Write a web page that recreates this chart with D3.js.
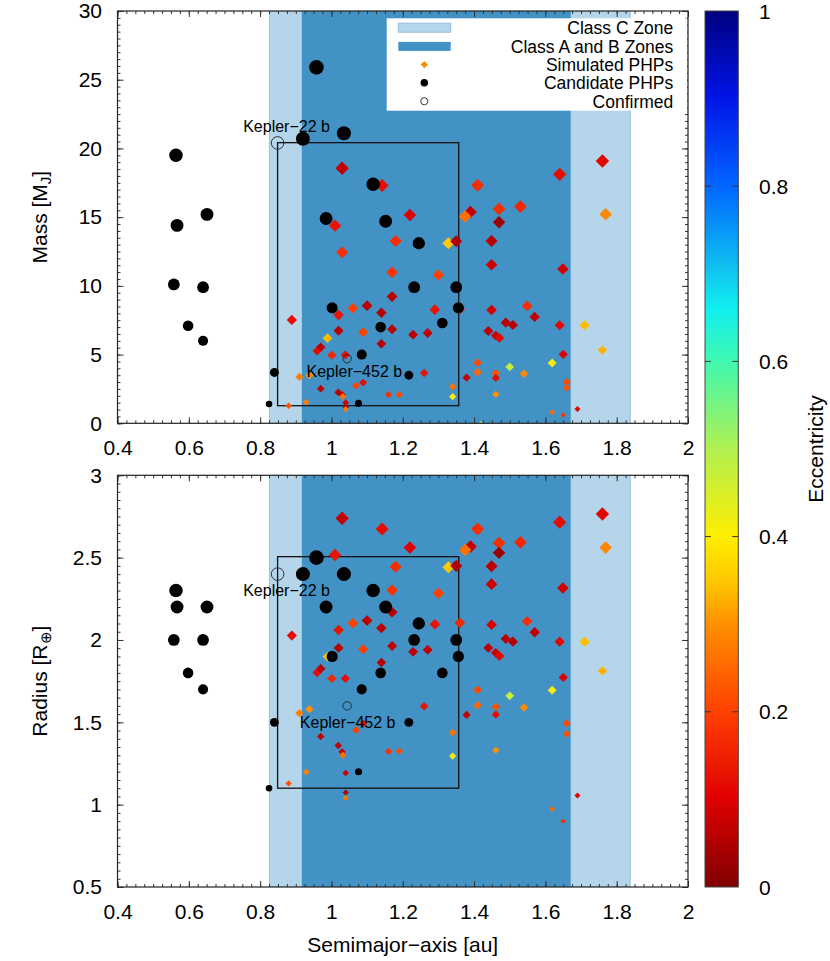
<!DOCTYPE html>
<html>
<head>
<meta charset="utf-8">
<script src="https://cdn.jsdelivr.net/npm/d3@7"></script>
<style>
  body { margin: 0; background: #fff; }
  text { font-family: "Liberation Sans", Arial, Helvetica, sans-serif; fill: #000; }
</style>
</head>
<body>
<svg id="chart" width="830" height="961"></svg>
<script>
// ---- data ----
var xTicks = [0.4, 0.6, 0.8, 1, 1.2, 1.4, 1.6, 1.8, 2];
var massTicks = [0, 5, 10, 15, 20, 25, 30];
var radiusTicks = [0.5, 1, 1.5, 2, 2.5, 3];
var eccTicks = [0, 0.2, 0.4, 0.6, 0.8, 1];

var zoneC = [0.826, 1.838];
var zoneAB = [0.917, 1.671];

var boxA = [0.849, 1.357];
var boxMass = [1.28, 20.42];
var boxRadius = [1.10, 2.506];

// candidate PHPs (black dots)
var candA      = [0.564, 0.567, 0.651, 0.558, 0.640, 0.598, 0.640,
                  0.958, 0.920, 1.035, 1.117, 0.985, 1.152, 1.245, 1.232, 1.350, 1.356, 1.002, 1.311, 1.138, 1.085, 1.217, 0.840, 0.825, 1.076];
var candMass   = [19.5, 14.4, 15.2, 10.1, 9.9, 7.1, 6.0,
                  25.9, 20.7, 21.1, 17.4, 14.9, 14.7, 13.1, 9.9, 9.9, 8.4, 8.4, 7.3, 7.0, 5.0, 3.5, 3.7, 1.4, 1.45];
var candRadius = [2.3, 2.2, 2.2, 2.0, 2.0, 1.8, 1.7,
                  2.5, 2.4, 2.4, 2.3, 2.2, 2.2, 2.1, 2.0, 2.0, 1.9, 1.9, 1.8, 1.8, 1.7, 1.5, 1.5, 1.1, 1.2];

// confirmed planets (open circles)
var confNames  = ["Kepler\u221222 b", "Kepler\u2212452 b"];
var confA      = [0.849, 1.044];
var confMass   = [20.4, 4.7];
var confRadius = [2.4, 1.6];

// simulated PHPs (diamonds coloured by eccentricity)
var simA = [1.030, 1.142, 1.410, 1.390, 1.375, 1.220, 1.010, 1.180, 1.030, 1.328,
            1.350, 1.170, 1.300, 1.170, 1.100, 1.060, 1.020, 1.140, 1.290, 0.889,
            1.020, 1.089, 1.170, 1.229, 1.270, 0.989, 1.140, 0.960, 0.970, 1.001,
            1.039, 1.260, 0.910, 0.938, 1.089, 1.069, 0.970, 1.019, 1.030, 1.032,
            1.160, 1.190, 1.340, 1.340, 0.929, 0.880, 1.040, 1.040, 1.040, 1.379,
            1.360, 1.760, 1.640, 1.769, 1.470, 1.530, 1.470, 1.449, 1.449, 1.649,
            1.449, 1.549, 1.570, 1.489, 1.509, 1.440, 1.461, 1.471, 1.640, 1.710,
            1.760, 1.650, 1.410, 1.500, 1.619, 1.410, 1.461, 1.461, 1.540, 1.461,
            1.660, 1.660, 1.690, 1.619, 1.650, 1.419];
var simMass = [18.56, 17.3, 17.32, 15.38, 15.04, 15.16, 14.38, 13.27, 12.44, 13.1,
               13.25, 10.99, 10.79, 9.22, 8.56, 8.37, 7.88, 8.05, 8.27, 7.52,
               6.74, 6.62, 6.84, 6.45, 6.57, 6.19, 5.79, 5.28, 5.53, 4.95,
               4.97, 3.66, 3.37, 3.49, 2.96, 2.74, 2.52, 2.26, 2.08, 1.95,
               2.08, 2.08, 2.66, 1.94, 1.53, 1.28, 1.5, 1.15, 1.02, 3.32,
               8.3, 19.09, 18.12, 15.21, 15.6, 15.77, 14.63, 13.27, 11.54, 11.23,
               8.25, 8.54, 7.74, 7.32, 7.15, 6.72, 6.38, 6.21, 7.13, 7.13,
               5.33, 5.02, 4.41, 4.10, 4.39, 3.71, 3.64, 3.30, 3.61, 2.11,
               3.01, 2.59, 1.04, 0.80, 0.60, 0.04];
var simRadius = [2.739, 2.674, 2.674, 2.567, 2.547, 2.561, 2.516, 2.445, 2.40, 2.442,
                 2.45, 2.302, 2.284, 2.169, 2.118, 2.102, 2.061, 2.072, 2.096, 2.027,
                 1.952, 1.944, 1.964, 1.928, 1.940, 1.899, 1.863, 1.802, 1.826, 1.766,
                 1.766, 1.598, 1.556, 1.58, 1.491, 1.453, 1.414, 1.359, 1.321, 1.30,
                 1.323, 1.325, 1.438, 1.295, 1.198, 1.129, 1.192, 1.074, 1.04, 1.545,
                 2.104, 2.765, 2.715, 2.561, 2.589, 2.593, 2.529, 2.448, 2.339, 2.316,
                 2.092, 2.114, 2.047, 2.007, 1.99, 1.952, 1.922, 1.902, 1.99, 1.99,
                 1.812, 1.772, 1.697, 1.661, 1.695, 1.604, 1.594, 1.547, 1.59, 1.331,
                 1.495, 1.43, 1.056, 0.975, 0.90, 0.45];
var simEcc = [0.07, 0.12, 0.17, 0.07, 0.26, 0.10, 0.13, 0.17, 0.17, 0.35,
              0.05, 0.18, 0.20, 0.06, 0.06, 0.20, 0.13, 0.06, 0.13, 0.12,
              0.06, 0.20, 0.06, 0.06, 0.07, 0.34, 0.06, 0.12, 0.06, 0.16,
              0.12, 0.13, 0.28, 0.30, 0.12, 0.20, 0.07, 0.06, 0.07, 0.26,
              0.18, 0.21, 0.26, 0.40, 0.28, 0.22, 0.08, 0.06, 0.27, 0.07,
              0.16, 0.11, 0.12, 0.29, 0.17, 0.16, 0.03, 0.06, 0.08, 0.09,
              0.09, 0.17, 0.07, 0.06, 0.06, 0.06, 0.08, 0.11, 0.11, 0.34,
              0.33, 0.10, 0.21, 0.47, 0.41, 0.25, 0.22, 0.12, 0.29, 0.30,
              0.21, 0.22, 0.11, 0.25, 0.18, 0.47];

// palette of the colour bar
var eccStops  = [0, 0.1, 0.2, 0.3, 0.35, 0.4, 0.5, 0.6, 0.66, 0.7, 0.8, 0.9, 1];
var eccColors = ["#800000", "#e00000", "#ff4000", "#ff9000", "#ffc800", "#ffee00", "#b0f050",
                 "#40f8b0", "#10f0f0", "#10c8f0", "#0066ff", "#0014e8", "#000080"];

var legendLabels = ["Class C Zone", "Class A and B Zones", "Simulated PHPs", "Candidate PHPs", "Confirmed"];

// ---- setup ----
var svg = d3.select("#chart");
var left = 117.5, right = 688;

var x = d3.scaleLinear().domain([0.4, 2]).range([left, right]);
var yMass = d3.scaleLinear().domain([0, 30]).range([423.3, 11]);
var yRad = d3.scaleLinear().domain([0.5, 3]).range([887, 475.3]);
var ecc = d3.scaleLinear().domain(eccStops).range(eccColors).interpolate(d3.interpolateRgb);
var diamondSize = d3.scaleLinear().domain([0.9, 2.8]).range([2.7, 6.8]);
var dotSize = d3.scaleLinear().domain([1.1, 2.5]).range([3.3, 7.3]);
var openSize = d3.scaleLinear().domain([1.6, 2.4]).range([4.2, 6.3]);

var sims = simA.map(function(a, i) { return {a: a, mass: simMass[i], radius: simRadius[i], e: simEcc[i]}; });
var cands = candA.map(function(a, i) { return {a: a, mass: candMass[i], radius: candRadius[i]}; });
var confs = confA.map(function(a, i) { return {name: confNames[i], a: a, mass: confMass[i], radius: confRadius[i]}; });

function diamond(h) {
  return "M0," + (-h) + "L" + h + ",0L0," + h + "L" + (-h) + ",0Z";
}

function styleAxis(g, size) {
  g.select(".domain").remove();
  g.selectAll(".tick line").attr("stroke", "#333").attr("stroke-width", 1);
  g.attr("font-size", size).attr("font-family", null);
}

function panel(id, y, yTicks, minorStep, key, boxY, labelOffsets) {
  var top = y.range()[1], bottom = y.range()[0];
  var g = svg.append("g");

  g.append("clipPath").attr("id", "clip-" + id)
    .append("rect").attr("x", left).attr("y", top).attr("width", right - left).attr("height", bottom - top);

  var plot = g.append("g").attr("clip-path", "url(#clip-" + id + ")");

  // zones
  plot.append("rect")
    .attr("x", x(zoneC[0])).attr("y", top)
    .attr("width", x(zoneC[1]) - x(zoneC[0])).attr("height", bottom - top)
    .attr("fill", "#b5d5ea").attr("stroke", "#93c0e0").attr("stroke-width", 1);
  plot.append("rect")
    .attr("x", x(zoneAB[0])).attr("y", top)
    .attr("width", x(zoneAB[1]) - x(zoneAB[0])).attr("height", bottom - top)
    .attr("fill", "#4292c6");

  // box
  plot.append("rect")
    .attr("x", x(boxA[0])).attr("y", y(boxY[1]))
    .attr("width", x(boxA[1]) - x(boxA[0])).attr("height", y(boxY[0]) - y(boxY[1]))
    .attr("fill", "none").attr("stroke", "#111").attr("stroke-width", 1.3);

  plot.selectAll(".sim")
    .data(sims)
    .enter().append("path")
    .attr("class", "sim")
    .attr("transform", function(d) { return "translate(" + x(d.a) + "," + y(d[key]) + ")"; })
    .attr("d", function(d) { return diamond(diamondSize(d.radius)); })
    .attr("fill", function(d) { return ecc(d.e); });

  plot.selectAll(".cand")
    .data(cands)
    .enter().append("circle")
    .attr("class", "cand")
    .attr("cx", function(d) { return x(d.a); })
    .attr("cy", function(d) { return y(d[key]); })
    .attr("r", function(d) { return dotSize(d.radius); })
    .attr("fill", "#000");

  plot.selectAll(".conf")
    .data(confs)
    .enter().append("circle")
    .attr("class", "conf")
    .attr("cx", function(d) { return x(d.a); })
    .attr("cy", function(d) { return y(d[key]); })
    .attr("r", function(d) { return openSize(d.radius); })
    .attr("fill", "none").attr("stroke", "#222").attr("stroke-width", 0.9);

  g.selectAll(".conf-label")
    .data(confs)
    .enter().append("text")
    .attr("class", "conf-label")
    .attr("x", function(d, i) { return x(d.a) + labelOffsets[i][0]; })
    .attr("y", function(d, i) { return y(d[key]) + labelOffsets[i][1]; })
    .attr("font-size", 16)
    .text(function(d) { return d.name; });

  // axes (gnuplot style: inward ticks on all sides)
  var xMinor = d3.range(0, 65).map(function(i) { return 0.4 + i * 0.025; });
  var n = Math.round((y.domain()[1] - y.domain()[0]) / minorStep);
  var yMinor = d3.range(0, n + 1).map(function(i) { return y.domain()[0] + i * minorStep; });

  g.append("g").attr("transform", "translate(0," + bottom + ")")
    .call(d3.axisBottom(x).tickValues(xMinor).tickSize(-3).tickSizeOuter(0).tickFormat(""))
    .call(styleAxis, 21);
  g.append("g").attr("transform", "translate(0," + bottom + ")")
    .call(d3.axisBottom(x).tickValues(xTicks).tickSize(-6).tickSizeOuter(0).tickPadding(17).tickFormat(d3.format("~g")))
    .call(styleAxis, 21);
  g.append("g").attr("transform", "translate(0," + top + ")")
    .call(d3.axisTop(x).tickValues(xMinor).tickSize(-3).tickSizeOuter(0).tickFormat(""))
    .call(styleAxis, 21);
  g.append("g").attr("transform", "translate(0," + top + ")")
    .call(d3.axisTop(x).tickValues(xTicks).tickSize(-6).tickSizeOuter(0).tickFormat(""))
    .call(styleAxis, 21);
  g.append("g").attr("transform", "translate(" + left + ",0)")
    .call(d3.axisLeft(y).tickValues(yMinor).tickSize(-3).tickSizeOuter(0).tickFormat(""))
    .call(styleAxis, 21);
  g.append("g").attr("transform", "translate(" + left + ",0)")
    .call(d3.axisLeft(y).tickValues(yTicks).tickSize(-6).tickSizeOuter(0).tickPadding(15.5).tickFormat(d3.format("~g")))
    .call(styleAxis, 21);
  g.append("g").attr("transform", "translate(" + right + ",0)")
    .call(d3.axisRight(y).tickValues(yMinor).tickSize(-3).tickSizeOuter(0).tickFormat(""))
    .call(styleAxis, 21);
  g.append("g").attr("transform", "translate(" + right + ",0)")
    .call(d3.axisRight(y).tickValues(yTicks).tickSize(-6).tickSizeOuter(0).tickFormat(""))
    .call(styleAxis, 21);

  g.append("rect")
    .attr("x", left).attr("y", top).attr("width", right - left).attr("height", bottom - top)
    .attr("fill", "none").attr("stroke", "#222").attr("stroke-width", 1.2);

  return g;
}

var topPanel = panel("mass", yMass, massTicks, 0.5, "mass", boxMass, [[-34.4, -10.7], [-40.6, 18.6]]);
var botPanel = panel("rad", yRad, radiusTicks, 0.05, "radius", boxRadius, [[-34.4, 22], [-47.3, 22]]);

// legend (top panel)
var leg = svg.append("g");
leg.append("rect").attr("x", 386.7).attr("y", 18.3).attr("width", 687 - 386.7).attr("height", 92.4).attr("fill", "#fff");
var rowY = [27.7, 46.4, 64.6, 82.8, 101.2];
leg.selectAll(".leg-text")
  .data(legendLabels)
  .enter().append("text")
  .attr("class", "leg-text")
  .attr("x", 673.3)
  .attr("y", function(d, i) { return rowY[i]; })
  .attr("dy", "0.36em")
  .attr("text-anchor", "end")
  .attr("font-size", 17.5)
  .text(function(d) { return d; });
leg.append("rect").attr("x", 398.3).attr("y", rowY[0] - 4.5).attr("width", 52.4).attr("height", 9)
  .attr("fill", "#b5d5ea").attr("stroke", "#93c0e0").attr("stroke-width", 1);
leg.append("rect").attr("x", 398.3).attr("y", rowY[1] - 4.5).attr("width", 52.4).attr("height", 9)
  .attr("fill", "#4292c6");
leg.append("path").attr("transform", "translate(424.3," + rowY[2] + ")").attr("d", diamond(3.6)).attr("fill", ecc(0.29));
leg.append("circle").attr("cx", 424.3).attr("cy", rowY[3]).attr("r", 3.8).attr("fill", "#000");
leg.append("circle").attr("cx", 424.3).attr("cy", rowY[4]).attr("r", 3.6).attr("fill", "none").attr("stroke", "#222").attr("stroke-width", 0.9);

// axis titles
svg.append("text")
  .attr("transform", "translate(46.7," + ((yMass.range()[0] + yMass.range()[1]) / 2) + ") rotate(-90)")
  .attr("text-anchor", "middle").attr("font-size", 21)
  .call(function(t) {
    t.append("tspan").text("Mass [M");
    t.append("tspan").attr("font-size", 15).attr("dy", 4).text("J");
    t.append("tspan").attr("dy", -4).text("]");
  });
svg.append("text")
  .attr("transform", "translate(46.7," + ((yRad.range()[0] + yRad.range()[1]) / 2) + ") rotate(-90)")
  .attr("text-anchor", "middle").attr("font-size", 21)
  .call(function(t) {
    t.append("tspan").text("Radius [R");
    t.append("tspan").attr("font-size", 15).attr("dy", 4).text("\u2295");
    t.append("tspan").attr("dy", -4).text("]");
  });
svg.append("text")
  .attr("x", (left + right) / 2).attr("y", 952)
  .attr("text-anchor", "middle").attr("font-size", 21)
  .text("Semimajor\u2212axis [au]");

// colour bar
var cbX = 705, cbW = 33.3;
var cbY = d3.scaleLinear().domain([0, 1]).range([887, 11]);
var grad = svg.append("defs").append("linearGradient")
  .attr("id", "ecc-grad").attr("x1", 0).attr("y1", 1).attr("x2", 0).attr("y2", 0);
grad.selectAll("stop")
  .data(d3.range(0, 101).map(function(i) { return i / 100; }))
  .enter().append("stop")
  .attr("offset", function(d) { return d; })
  .attr("stop-color", function(d) { return ecc(d); });
svg.append("rect")
  .attr("x", cbX).attr("y", cbY(1)).attr("width", cbW).attr("height", cbY(0) - cbY(1))
  .attr("fill", "url(#ecc-grad)").attr("stroke", "#444").attr("stroke-width", 1);
var cbTicks = svg.append("g");
cbTicks.selectAll(".cbl")
  .data(eccTicks.filter(function(d) { return d > 0 && d < 1; }))
  .enter().append("path")
  .attr("d", function(d) {
    return "M" + cbX + "," + cbY(d) + "h6M" + (cbX + cbW) + "," + cbY(d) + "h-6";
  })
  .attr("stroke", "#333").attr("stroke-width", 1);
cbTicks.selectAll(".cbt")
  .data(eccTicks)
  .enter().append("text")
  .attr("x", 759)
  .attr("y", function(d) { return cbY(d); })
  .attr("dy", "0.36em")
  .attr("font-size", 21)
  .text(d3.format("~g"));
svg.append("text")
  .attr("transform", "translate(823," + ((cbY(0) + cbY(1)) / 2) + ") rotate(-90)")
  .attr("text-anchor", "middle").attr("font-size", 21)
  .text("Eccentricity");
</script>
</body>
</html>
